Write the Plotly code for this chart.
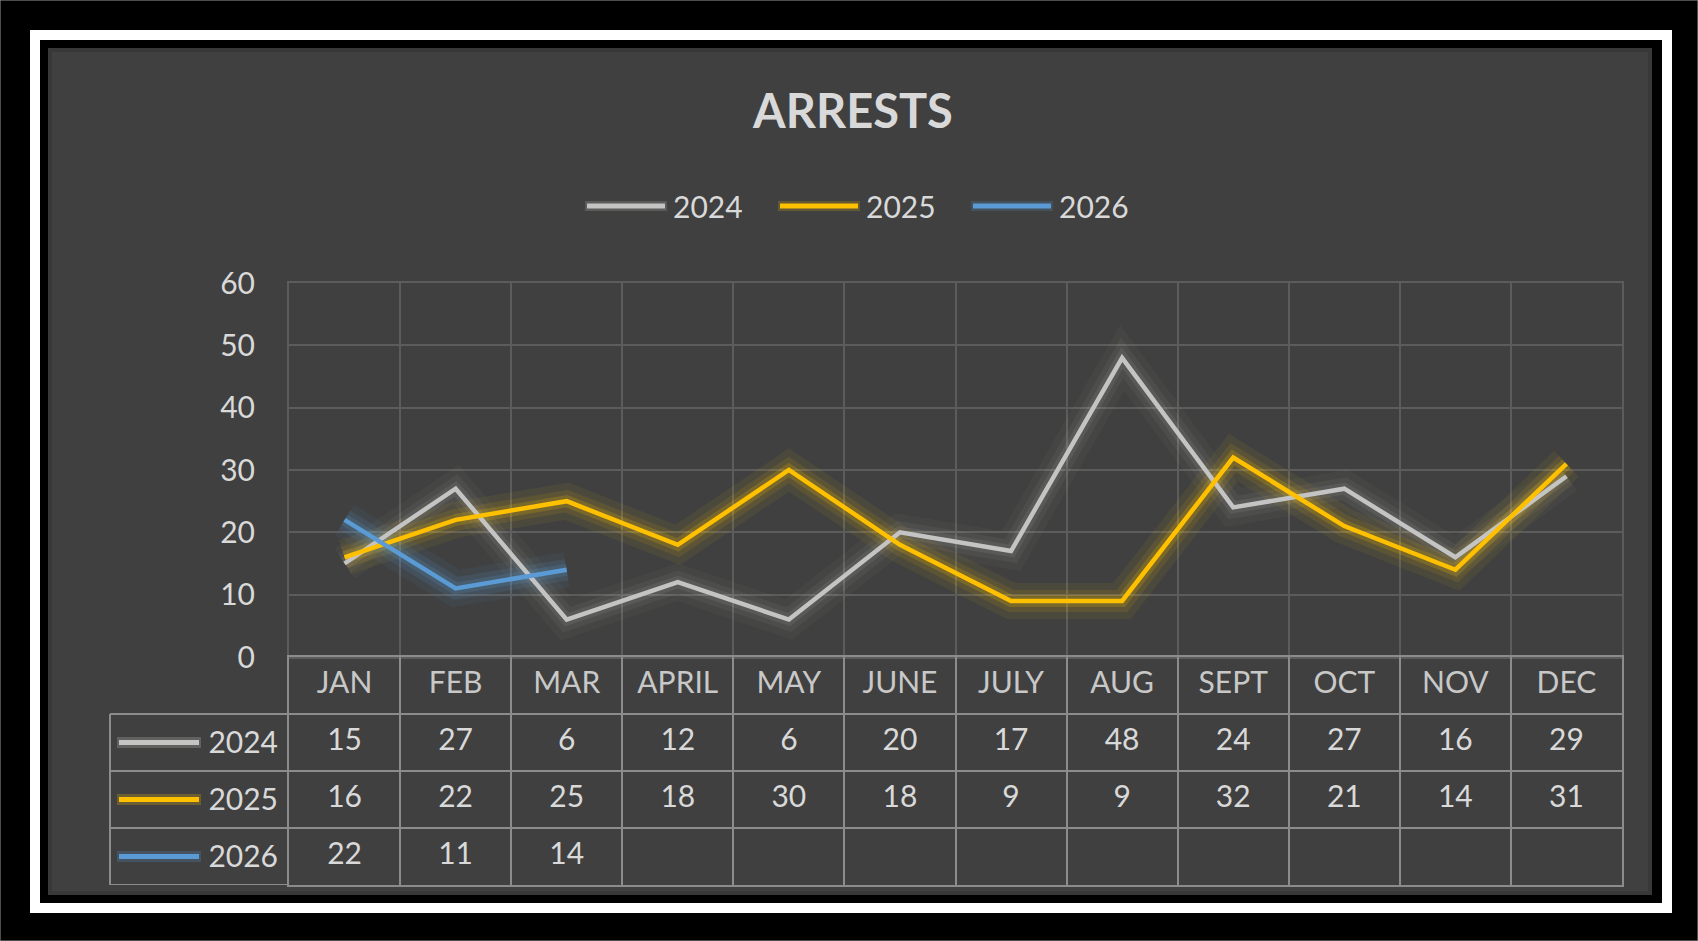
import plotly.graph_objects as go

# ---------------- data ----------------
months = ["JAN", "FEB", "MAR", "APRIL", "MAY", "JUNE", "JULY", "AUG", "SEPT", "OCT", "NOV", "DEC"]
years = ["2024", "2025", "2026"]
arrests_2024 = [15, 27, 6, 12, 6, 20, 17, 48, 24, 27, 16, 29]
arrests_2025 = [16, 22, 25, 18, 30, 18, 9, 9, 32, 21, 14, 31]
arrests_2026 = [22, 11, 14]
y_ticks = [0, 10, 20, 30, 40, 50, 60]
title_text = "ARRESTS"

series = {"2024": arrests_2024, "2025": arrests_2025, "2026": arrests_2026}
colors = {"2024": "#C4C4C4", "2025": "#FFC000", "2026": "#5B9BD5"}
glow = {"2024": "215,215,205", "2025": "255,200,0", "2026": "91,155,213"}
glow_alpha = {"2024": [0.035, 0.06, 0.09], "2025": [0.06, 0.10, 0.18], "2026": [0.07, 0.12, 0.18]}

W, H = 1698, 941
def px(x):
    return x / W
def py(y):
    return 1 - y / H

FONT = "Lato, 'Open Sans', sans-serif"
TXT = "#D9D9D9"
GRID = "#5C5C5C"
TLINE = "#8C8C8C"
FS = 30

fig = go.Figure()

# glow layers
for yr in years:
    vals = series[yr]
    xs = months[:len(vals)]
    for w, a in zip([36, 22, 12], glow_alpha[yr]):
        fig.add_trace(go.Scatter(x=xs, y=vals, mode="lines", xaxis="x", yaxis="y",
                                 line=dict(color=f"rgba({glow[yr]},{a})", width=w),
                                 showlegend=False, hoverinfo="skip"))
# main lines
for yr in years:
    vals = series[yr]
    xs = months[:len(vals)]
    fig.add_trace(go.Scatter(x=xs, y=vals, mode="lines", name=yr, xaxis="x", yaxis="y",
                             line=dict(color=colors[yr], width=4.5), showlegend=False))

# data table below the plot
row_cats = ["hdr"] + years
fig.add_trace(go.Scatter(x=months, y=["hdr"] * len(months), text=months, mode="text",
                         xaxis="x2", yaxis="y2", showlegend=False, hoverinfo="skip",
                         textfont=dict(family=FONT, size=FS, color="#C8C8C8")))
for yr in years:
    vals = series[yr]
    fig.add_trace(go.Scatter(x=months[:len(vals)], y=[yr] * len(vals), text=[str(v) for v in vals],
                             mode="text", xaxis="x2", yaxis="y2", showlegend=False, hoverinfo="skip",
                             textfont=dict(family=FONT, size=FS, color=TXT)))

shapes = []
annotations = []
# frame
shapes.append(dict(type="rect", xref="paper", yref="paper", x0=0, x1=1, y0=0, y1=1,
                   line=dict(color="#9A9A9A", width=1), fillcolor="#000000", layer="below"))
shapes.append(dict(type="rect", xref="paper", yref="paper", x0=px(30), x1=px(1672), y0=py(913), y1=py(30),
                   line=dict(width=0), fillcolor="#FFFFFF", layer="below"))
shapes.append(dict(type="rect", xref="paper", yref="paper", x0=px(40), x1=px(1662), y0=py(903), y1=py(40),
                   line=dict(width=0), fillcolor="#000000", layer="below"))
shapes.append(dict(type="rect", xref="paper", yref="paper", x0=px(50), x1=px(1650), y0=py(893), y1=py(50),
                   line=dict(color="#383838", width=4), fillcolor="#404040", layer="below"))

# top legend (keys + labels)
for i, yr in enumerate(years):
    x0 = 587 + 193 * i
    shapes.append(dict(type="line", xref="paper", yref="paper", x0=px(x0 - 2), x1=px(x0 + 80),
                       y0=py(206), y1=py(206), line=dict(color=f"rgba({glow[yr]},0.18)", width=10)))
    shapes.append(dict(type="line", xref="paper", yref="paper", x0=px(x0), x1=px(x0 + 78),
                       y0=py(206), y1=py(206), line=dict(color=colors[yr], width=5)))
    annotations.append(dict(text=yr, xref="paper", yref="paper", x=px(x0 + 84), y=py(206),
                            xanchor="left", yanchor="middle", showarrow=False,
                            font=dict(family=FONT, size=FS, color=TXT)))

# legend column of the table
for b in [0.5, 1.5, 2.5, 3.5]:
    shapes.append(dict(type="line", xref="paper", yref="y2", x0=px(110), x1=px(289), y0=b, y1=b,
                       line=dict(color=TLINE, width=2)))
shapes.append(dict(type="line", xref="paper", yref="y2", x0=px(110), x1=px(110), y0=0.5, y1=3.5,
                   line=dict(color=TLINE, width=2)))
for i, yr in enumerate(years):
    shapes.append(dict(type="line", xref="paper", yref="y2", x0=px(117), x1=px(201), y0=i + 1, y1=i + 1,
                       line=dict(color=f"rgba({glow[yr]},0.22)", width=11)))
    shapes.append(dict(type="line", xref="paper", yref="y2", x0=px(119), x1=px(199), y0=i + 1, y1=i + 1,
                       line=dict(color=colors[yr], width=5)))

fig.update_layout(
    width=W, height=H,
    margin=dict(l=0, r=0, t=0, b=0, autoexpand=False),
    paper_bgcolor="#000000",
    plot_bgcolor="rgba(0,0,0,0)",
    font=dict(family=FONT, color=TXT, size=FS),
    title=dict(text="<b>" + title_text + "</b>", x=px(853), xanchor="center", y=py(112), yanchor="middle",
               xref="paper", yref="paper", font=dict(family=FONT, size=47, color=TXT)),
    showlegend=False,
    xaxis=dict(domain=[px(289), px(1622)], type="category", categoryorder="array", categoryarray=months,
               range=[-0.5, 11.5], tickson="boundaries", showgrid=True, gridcolor=GRID, gridwidth=2,
               showline=True, linecolor=GRID, linewidth=2, mirror=True, showticklabels=False,
               ticks="", anchor="y", fixedrange=True, automargin=False),
    yaxis=dict(domain=[py(657), py(283)], range=[0, 60], tickvals=y_ticks, showgrid=True,
               gridcolor=GRID, gridwidth=2, zeroline=False, showline=True, linecolor=GRID, linewidth=2,
               mirror=True, ticks="", ticklabelstandoff=26, anchor="x", automargin=False,
               tickfont=dict(family=FONT, size=FS, color=TXT), fixedrange=True),
    xaxis2=dict(domain=[px(289), px(1622)], type="category", categoryorder="array", categoryarray=months,
                range=[-0.5, 11.5], tickson="boundaries", showgrid=True, gridcolor=TLINE, gridwidth=2,
                showline=True, linecolor=TLINE, linewidth=2, mirror=True, showticklabels=False,
                ticks="", anchor="y2", fixedrange=True, automargin=False),
    yaxis2=dict(domain=[py(885), py(657)], type="category", categoryorder="array", categoryarray=row_cats,
                range=[3.5, -0.5], tickmode="array", tickvals=row_cats, ticktext=[""] + years,
                tickson="boundaries", showgrid=True, gridcolor=TLINE, gridwidth=2,
                showline=True, linecolor=TLINE, linewidth=2, mirror=True, ticks="",
                ticklabelstandoff=3, anchor="x2", tickfont=dict(family=FONT, size=FS, color=TXT),
                fixedrange=True, automargin=False),
    shapes=shapes,
    annotations=annotations,
)

fig.write_html("out.html", config={"displayModeBar": False},
               post_script="document.body.style.margin='0';document.body.style.background='#000';document.body.style.overflow='hidden';")
